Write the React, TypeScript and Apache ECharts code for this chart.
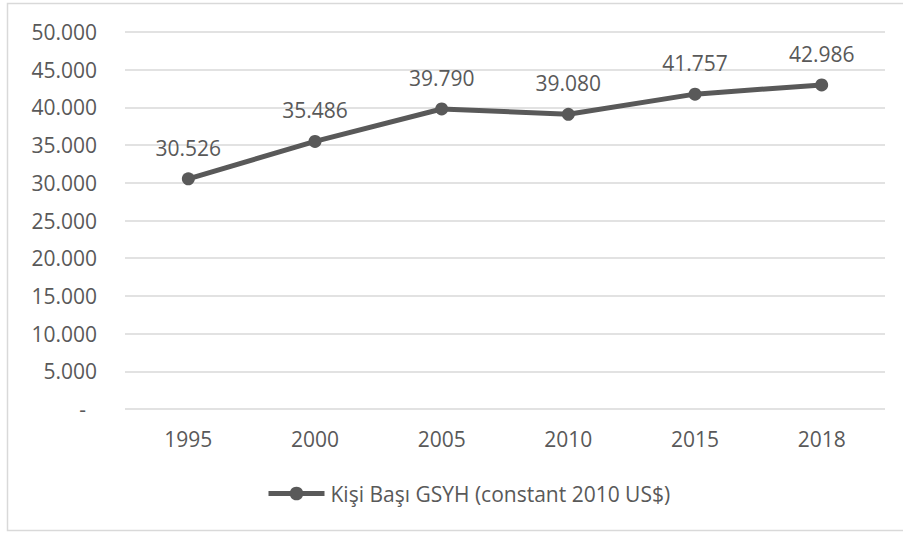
import React, { useEffect, useRef } from "react";
import * as echarts from "echarts";

const categories = ["1995", "2000", "2005", "2010", "2015", "2018"];
const values = [30526, 35486, 39790, 39080, 41757, 42986];
const seriesName = "Kişi Başı GSYH (constant 2010 US$)";
const yMin = 0;
const yMax = 50000;
const yInterval = 5000;

const fmt = (v: number) =>
  v === 0 ? "-" : Math.round(v).toString().replace(/\B(?=(\d{3})+(?!\d))/g, ".");

const FONT = "'Open Sans', 'Noto Sans', sans-serif";
const TXT = "#595959";
const FS = 21;

export default function App() {
  const ref = useRef<HTMLDivElement>(null);
  useEffect(() => {
    if (!ref.current) return;
    const chart = echarts.init(ref.current, undefined, { renderer: "svg" });
    chart.setOption({
      animation: false,
      backgroundColor: "#ffffff",
      textStyle: { fontFamily: FONT },
      graphic: [
        {
          type: "rect",
          shape: { x: 7.5, y: 3.5, width: 1000, height: 527 },
          style: { fill: "none", stroke: "#d9d9d9", lineWidth: 1.5 },
          silent: true,
        },
      ],
      grid: { left: 125, right: 18, top: 32, bottom: 124, containLabel: false },
      xAxis: {
        type: "category",
        data: categories,
        boundaryGap: true,
        axisLine: { show: false },
        axisTick: { show: false },
        axisLabel: { color: TXT, fontSize: FS, fontFamily: FONT, margin: 19 },
      },
      yAxis: {
        type: "value",
        min: yMin,
        max: yMax,
        interval: yInterval,
        axisLine: { show: false },
        axisTick: { show: false },
        splitLine: { lineStyle: { color: "#d9d9d9", width: 1.5 } },
        axisLabel: {
          color: TXT,
          fontSize: FS,
          fontFamily: FONT,
          margin: 28,
          formatter: (v: number) => (v === 0 ? "-  " : fmt(v)),
        },
      },
      legend: {
        bottom: 24,
        left: 261,
        itemWidth: 56,
        itemHeight: 17,
        itemGap: 10,
        lineStyle: { width: 5, color: "#595959" },
        itemStyle: { color: "#595959" },
        textStyle: { color: TXT, fontSize: FS, fontFamily: FONT, padding: [0, 0, 0, 1] },
        data: [seriesName],
      },
      series: [
        {
          name: seriesName,
          type: "line",
          data: values,
          symbol: "circle",
          symbolSize: 13,
          lineStyle: { color: "#595959", width: 5 },
          itemStyle: { color: "#595959" },
          label: {
            show: true,
            position: "top",
            distance: 14,
            color: TXT,
            fontSize: FS,
            fontFamily: FONT,
            formatter: (p: any) => fmt(p.value),
          },
        },
      ],
    });
    return () => chart.dispose();
  }, []);
  return (
    <div
      ref={ref}
      style={{ position: "absolute", left: 0, top: 0, width: 903, height: 533 }}
    />
  );
}
